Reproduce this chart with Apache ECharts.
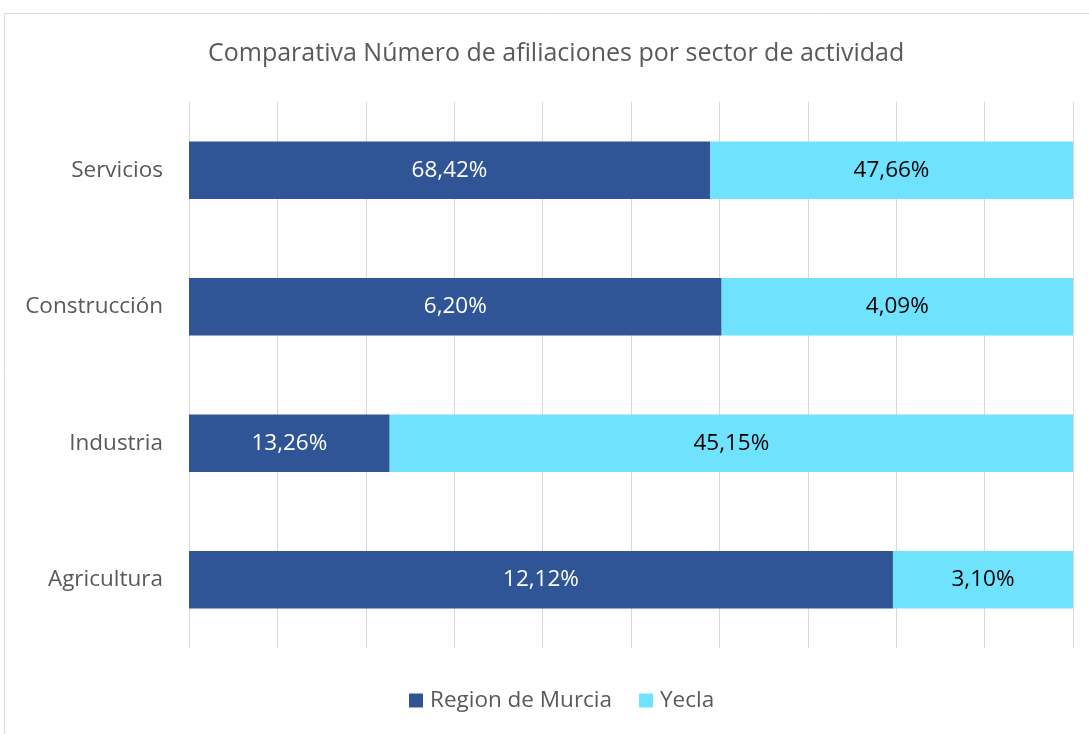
<!DOCTYPE html>
<html>
<head>
    <meta charset="utf-8">
    <title>Comparativa afiliaciones</title>
    <style>
        html, body { margin: 0; padding: 0; background: #fff; }
        #chart { width: 1089px; height: 734px; }
    </style>
</head>
<body>
    <div id="chart"></div>
    <script src="https://cdn.jsdelivr.net/npm/echarts@6/dist/echarts.min.js"></script>
    <script>
        // datos
        var sectores = ['Servicios', 'Construcción', 'Industria', 'Agricultura'];
        var murcia = [68.42, 6.20, 13.26, 12.12];
        var yecla = [47.66, 4.09, 45.15, 3.10];
        var xTicks = [0, 10, 20, 30, 40, 50, 60, 70, 80, 90, 100];

        var fontFam = '"Open Sans", "Noto Sans", sans-serif';

        // barras apiladas al 100%
        var share = function (a, b) {
            return a.map(function (v, i) { return v / (v + b[i]) * 100; });
        };
        var fmt = function (v) { return v.toFixed(2).replace('.', ',') + '%'; };

        var chart = echarts.init(document.getElementById('chart'));
        chart.setOption({
            animation: false,
            textStyle: { fontFamily: fontFam },
            title: {
                text: 'Comparativa Número de afiliaciones por sector de actividad',
                left: 203,
                top: 36,
                textStyle: { fontSize: 25, fontWeight: 'normal', color: '#595959', fontFamily: fontFam }
            },
            graphic: [{
                type: 'rect',
                shape: { x: 4.5, y: 13.5, width: 1200, height: 1000 },
                style: { fill: 'none', stroke: '#d9d9d9', lineWidth: 1 },
                silent: true
            }],
            legend: {
                bottom: 17,
                left: 404,
                itemWidth: 14,
                itemHeight: 14,
                itemGap: 27,
                icon: 'rect',
                textStyle: { fontSize: 22.5, color: '#595959', fontFamily: fontFam, padding: [0, 0, 0, 2] }
            },
            grid: { left: 189, right: 16, top: 102, bottom: 86 },
            xAxis: {
                type: 'value',
                min: xTicks[0],
                max: xTicks[xTicks.length - 1],
                interval: 10,
                axisLabel: { show: false },
                axisLine: { show: false },
                axisTick: { show: false },
                splitLine: { lineStyle: { color: '#d9d9d9', width: 1 } }
            },
            yAxis: {
                type: 'category',
                data: sectores,
                inverse: true,
                axisLine: { show: false },
                axisTick: { show: false },
                axisLabel: { fontSize: 22.5, color: '#595959', margin: 26 }
            },
            series: [{
                name: 'Region de Murcia',
                type: 'bar',
                stack: 'total',
                barCategoryGap: '58%',
                itemStyle: { color: '#2F5597' },
                label: {
                    show: true, position: 'inside', fontSize: 22.5, color: '#ffffff',
                    formatter: function (p) { return fmt(murcia[p.dataIndex]); }
                },
                data: share(murcia, yecla)
            }, {
                name: 'Yecla',
                type: 'bar',
                stack: 'total',
                itemStyle: { color: '#6FE2FD' },
                label: {
                    show: true, position: 'inside', fontSize: 22.5, color: '#000000',
                    formatter: function (p) { return fmt(yecla[p.dataIndex]); }
                },
                data: share(yecla, murcia)
            }]
        });
    </script>
</body>
</html>
